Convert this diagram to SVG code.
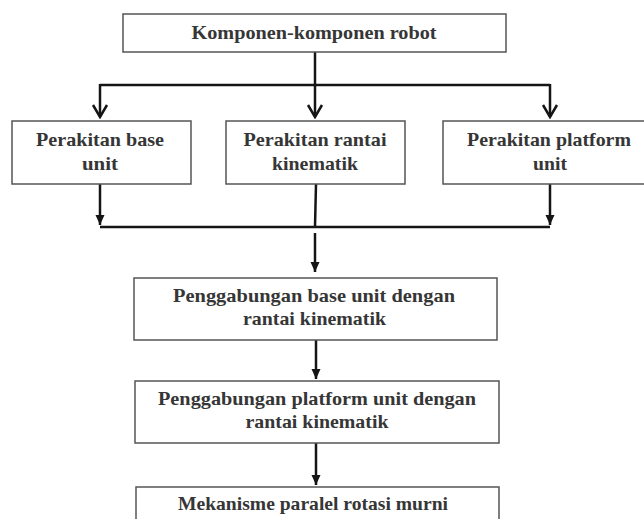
<svg xmlns="http://www.w3.org/2000/svg" width="644" height="519" viewBox="0 0 644 519">
<style>
.box{fill:#fff;stroke:#555;stroke-width:1.5}
.t{font-family:"Liberation Serif","Times New Roman",serif;font-weight:bold;font-size:19px;fill:#363636;text-anchor:middle}
.c{fill:none;stroke:#151515;stroke-width:2.5}
</style>
<defs>
<marker id="open" viewBox="-14 -9 16 18" refX="0" refY="0" markerWidth="16" markerHeight="18" markerUnits="userSpaceOnUse" orient="auto">
<path d="M-12,-7 L0,0 L-12,7" fill="none" stroke="#151515" stroke-width="2.5"/>
</marker>
<marker id="fill" viewBox="-11 -6 12 12" refX="0" refY="0" markerWidth="12" markerHeight="12" markerUnits="userSpaceOnUse" orient="auto">
<path d="M-10,-4.5 L0,0 L-10,4.5 Z" fill="#151515"/>
</marker>
</defs>
<rect width="644" height="519" fill="#fff"/>
<g id="connectors">
<line class="c" x1="315" y1="52" x2="315" y2="117" marker-end="url(#open)"/>
<line class="c" x1="100" y1="85" x2="550" y2="85"/>
<line class="c" x1="100" y1="84" x2="100" y2="117" marker-end="url(#open)"/>
<line class="c" x1="550" y1="84" x2="550" y2="117" marker-end="url(#open)"/>
<line class="c" x1="100" y1="184" x2="100" y2="225" marker-end="url(#fill)"/>
<line class="c" x1="550" y1="184" x2="550" y2="225" marker-end="url(#fill)"/>
<line class="c" x1="316" y1="184" x2="315" y2="227"/>
<line class="c" x1="100" y1="227" x2="550" y2="227"/>
<line class="c" x1="315" y1="233" x2="315" y2="272" marker-end="url(#fill)"/>
<line class="c" x1="316" y1="340" x2="316" y2="379" marker-end="url(#fill)"/>
<line class="c" x1="316" y1="443" x2="316" y2="485" marker-end="url(#fill)"/>
</g>
<g id="n-komponen">
<rect class="box" x="123" y="14" width="383" height="38"/>
<text class="t" x="314" y="39" textLength="245" lengthAdjust="spacingAndGlyphs">Komponen-komponen robot</text>
</g>
<g id="n-base">
<rect class="box" x="12" y="121" width="179" height="63"/>
<text class="t" x="100" y="146" textLength="128" lengthAdjust="spacingAndGlyphs">Perakitan base</text>
<text class="t" x="100" y="170" textLength="36" lengthAdjust="spacingAndGlyphs">unit</text>
</g>
<g id="n-rantai">
<rect class="box" x="226" y="121" width="179" height="63"/>
<text class="t" x="315" y="146" textLength="143" lengthAdjust="spacingAndGlyphs">Perakitan rantai</text>
<text class="t" x="315" y="170" textLength="86" lengthAdjust="spacingAndGlyphs">kinematik</text>
</g>
<g id="n-platform">
<rect class="box" x="443" y="121" width="212" height="63"/>
<text class="t" x="549" y="146" textLength="164" lengthAdjust="spacingAndGlyphs">Perakitan platform</text>
<text class="t" x="550" y="170" textLength="34" lengthAdjust="spacingAndGlyphs">unit</text>
</g>
<g id="n-gabung-base">
<rect class="box" x="134" y="278" width="363" height="62"/>
<text class="t" x="314" y="302" textLength="282" lengthAdjust="spacingAndGlyphs">Penggabungan base unit dengan</text>
<text class="t" x="314.5" y="325" textLength="143" lengthAdjust="spacingAndGlyphs">rantai kinematik</text>
</g>
<g id="n-gabung-platform">
<rect class="box" x="135" y="381" width="364" height="62"/>
<text class="t" x="317" y="405" textLength="318" lengthAdjust="spacingAndGlyphs">Penggabungan platform unit dengan</text>
<text class="t" x="317" y="428" textLength="143" lengthAdjust="spacingAndGlyphs">rantai kinematik</text>
</g>
<g id="n-mekanisme">
<rect class="box" x="136" y="487" width="363" height="45"/>
<text class="t" x="313" y="510" textLength="270" lengthAdjust="spacingAndGlyphs">Mekanisme paralel rotasi murni</text>
</g>
</svg>
